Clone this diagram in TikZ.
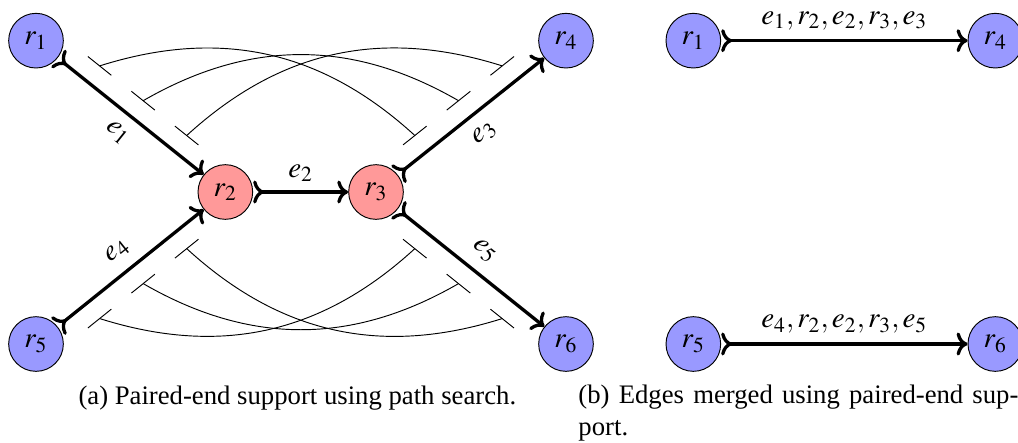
\documentclass[tikz,border=0pt]{standalone}
\usepackage{mathptmx}
\usepackage{fontspec}
\setmainfont{Liberation Serif}
\usepackage{tikz}
\usetikzlibrary{arrows.meta}
\usetikzlibrary{calc}

\definecolor{leafblue}{RGB}{153,153,255}
\definecolor{innerred}{RGB}{255,153,153}

\tikzset{
	lbl/.style={font=\fontsize{12.4}{15}\selectfont},
	readnode/.style={circle, draw, minimum size=0.82cm, inner sep=0pt, lbl},
	merged/.style={draw=black, line width=1.4pt, >->}
}

\begin{document}
\fontsize{11.4}{13.7}\selectfont
\begin{tikzpicture}
	\useasboundingbox (0,0) rectangle (15.27,6.63);

	% (a) graph before merging
	\begin{scope}[every node/.style={readnode}]
		\node[fill=leafblue] (r1) at (0.54,6.02) {$r_1$};
		\node[fill=innerred] (r2) at (3.38,3.75) {$r_2$};
		\node[fill=innerred] (r3) at (5.64,3.75) {$r_3$};
		\node[fill=leafblue] (r4) at (8.49,6.02) {$r_4$};
		\node[fill=leafblue] (r5) at (0.54,1.47) {$r_5$};
		\node[fill=leafblue] (r6) at (8.49,1.47) {$r_6$};
	\end{scope}

	\begin{scope}[every node/.style={lbl}, every edge/.style={merged}]
		\path (r1) edge node[below=1pt, sloped] {$e_1$} (r2);
		\path (r2) edge node[above] {$e_2$} (r3);
		\path (r3) edge node[below=1pt, sloped] {$e_3$} (r4);
		\path (r5) edge node[above=1pt, sloped] {$e_4$} (r2);
		\path (r3) edge node[above=1pt, sloped] {$e_5$} (r6);
	\end{scope}

	% paired-end reads
	\foreach \a/\b/\s/\n in {r1/r2/90/a, r3/r4/90/b, r5/r2/-90/c, r3/r6/-90/d}{
		\foreach \f/\k in {0.27/1, 0.5/2, 0.73/3}{
			\pgfmathsetmacro{\tlo}{\f-0.062}
			\pgfmathsetmacro{\thi}{\f+0.062}
			\coordinate (\n\k) at ($(\a)!\f!(\b)!0.3cm!\s:(\b)$);
			\draw ($(\a)!\tlo!(\b)!0.3cm!\s:(\b)$) -- ($(\a)!\thi!(\b)!0.3cm!\s:(\b)$);
		}
	}
	\foreach \k in {1,2,3}{
		\draw (a\k) to[bend left=30] (b\k);
		\draw (c\k) to[bend right=30] (d\k);
	}

	% (b) merged edges
	\begin{scope}[every node/.style={readnode, fill=leafblue}]
		\node (q1) at (10.40,6.02) {$r_1$};
		\node (q4) at (14.93,6.02) {$r_4$};
		\node (q5) at (10.40,1.47) {$r_5$};
		\node (q6) at (14.93,1.47) {$r_6$};
	\end{scope}

	\begin{scope}[every node/.style={lbl}, every edge/.style={merged}]
		\path (q1) edge node[above] {$e_1, r_2, e_2, r_3, e_3$} (q4);
		\path (q5) edge node[above] {$e_4, r_2, e_2, r_3, e_5$} (q6);
	\end{scope}

	% captions
	\node (capa) at (4.46,0.66) {(a) Paired-end support using path search.};
	\node[anchor=west, text width=6.6cm, align=justify, inner sep=0pt] (capb) at (8.67,0.44)
		{(b) Edges merged using paired-end sup-\linebreak port.};
\end{tikzpicture}
\end{document}
